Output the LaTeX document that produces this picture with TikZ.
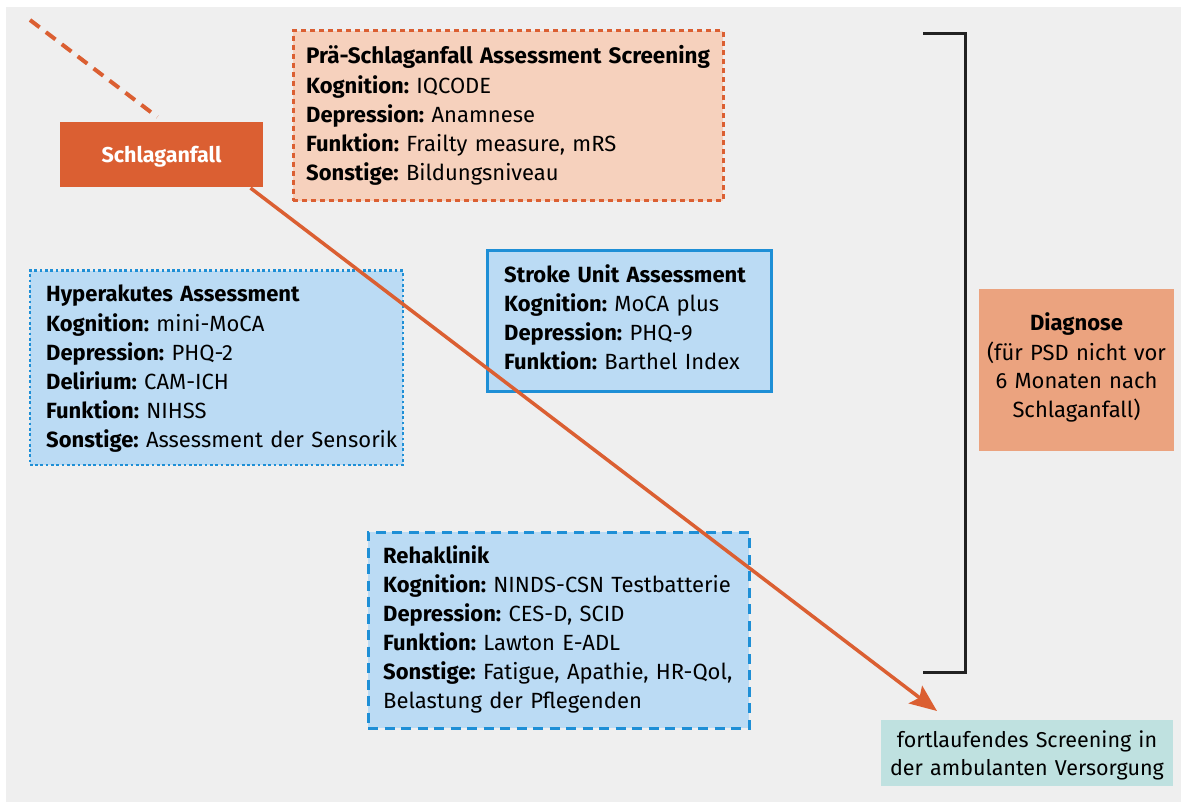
\documentclass[tikz,border=0pt]{standalone}
\usepackage{fontspec}
\setmainfont{Fira Sans}
\usetikzlibrary{arrows.meta}
\definecolor{bgc}{HTML}{EFEFEF}
\definecolor{orng}{HTML}{DB5F32}
\definecolor{peach}{HTML}{F6D1BD}
\definecolor{lblue}{HTML}{BBDBF4}
\definecolor{bblue}{HTML}{1E8FD6}
\definecolor{salmon}{HTML}{EBA37F}
\definecolor{teal}{HTML}{BFE1E0}
\definecolor{brk}{HTML}{222222}
\begin{document}
\frenchspacing
\begin{tikzpicture}[x=1pt,y=-1pt,
  txt/.style={inner sep=0pt, anchor=base west, text width=#1, align=left,
    font=\fontsize{22}{29.2}\selectfont},
  ctxt/.style={inner sep=0pt, anchor=base, text width=#1, align=center,
    font=\fontsize{22}{29}\selectfont},
  frame/.style={anchor=north west, inner sep=0pt},
  prebox/.style={frame, fill=peach, draw=orng, line width=2.5pt, dash pattern=on 5pt off 4pt},
  hyperbox/.style={frame, fill=lblue, draw=bblue, line width=2.7pt, dash pattern=on 2.7pt off 2.6pt},
  unitbox/.style={frame, fill=lblue, draw=bblue, line width=3pt},
  rehabox/.style={frame, fill=lblue, draw=bblue, line width=3pt, dash pattern=on 10pt off 6.5pt},
  flow/.style={draw=orng, line width=3.5pt},
]
\useasboundingbox (0,0) rectangle (1181,802);
\fill[bgc] (6,7) rectangle (1181,802);

% boxes
\node[prebox, minimum width=430, minimum height=170] (pre) at (292,29.5) {};
\node[hyperbox, minimum width=373, minimum height=194] (hyper) at (28.5,269.5) {};
\node[unitbox, minimum width=284, minimum height=140] (unit) at (486,249.5) {};
\node[rehabox, minimum width=381, minimum height=196] (reha) at (366.5,530.5) {};
\node[frame, fill=salmon, minimum width=195, minimum height=162] (diag) at (979,289) {};
\node[frame, fill=teal, minimum width=292, minimum height=66] (amb) at (881,720) {};

% timeline
\coordinate (dstart) at (30,20);
\coordinate (dend) at (157.3,117);
\coordinate (astart) at (250.5,188);
\coordinate (tip) at (937,711);
\draw[draw=orng, line width=4pt, dash pattern=on 12pt off 8pt] (dstart) -- (dend);
\draw[flow, -{Stealth[length=27pt,width=22pt,inset=5pt]}, shorten >=0pt] (astart) -- (tip);

\node[frame, fill=orng, minimum width=203, minimum height=65] (stroke) at (60,122) {};
\node[inner sep=0pt, anchor=base, text=white, font=\fontsize{21.5}{24}\selectfont\bfseries] (strokelbl) at (161.5,163) {Schlaganfall};

% bracket
\coordinate (b1) at (923,33.5);
\coordinate (b2) at (965.5,33.5);
\coordinate (b3) at (965.5,672.5);
\coordinate (b4) at (923,672.5);
\draw[brk, line width=3pt] (b1) -- (b2) -- (b3) -- (b4);

% texts
\node[txt=420] (pretext) at (306,64) {\textbf{\fontsize{22.4}{29.2}\selectfont Prä-Schlaganfall Assessment Screening}\\
\textbf{Kognition:} IQCODE\\
\textbf{Depression:} Anamnese\\
\textbf{Funktion:} Frailty measure, mRS\\
\textbf{Sonstige:} Bildungsniveau};

\node[txt=360] (hypertext) at (46,302) {\textbf{Hyperakutes Assessment}\\
\textbf{Kognition:} mini-MoCA\\
\textbf{Depression:} PHQ-2\\
\textbf{Delirium:} CAM-ICH\\
\textbf{Funktion:} NIHSS\\
\textbf{Sonstige:} Assessment der Sensorik};

\node[txt=270, font=\fontsize{22}{28.7}\selectfont] (unittext) at (504,283) {\textbf{Stroke Unit Assessment}\\
\textbf{Kognition:} MoCA plus\\
\textbf{Depression:} PHQ-9\\
\textbf{Funktion:} Barthel Index};

\node[txt=370, font=\fontsize{22}{29}\selectfont] (rehatext) at (383,563) {\textbf{Rehaklinik}\\
\textbf{Kognition:} NINDS-CSN Testbatterie\\
\textbf{Depression:} CES-D, SCID\\
\textbf{Funktion:} Lawton E-ADL\\
\textbf{Sonstige:} Fatigue, Apathie, HR-Qol,\\
Belastung der Pflegenden};

\node[ctxt=195] (diagtext) at (1076.5,331) {\textbf{Diagnose}\\
(für PSD nicht vor\\
6 Monaten nach\\
Schlaganfall)};

\node[ctxt=292, font=\fontsize{21.5}{28}\selectfont] (ambtext) at (1027,747) {fortlaufendes Screening in\\
der ambulanten Versorgung};
\end{tikzpicture}
\end{document}
